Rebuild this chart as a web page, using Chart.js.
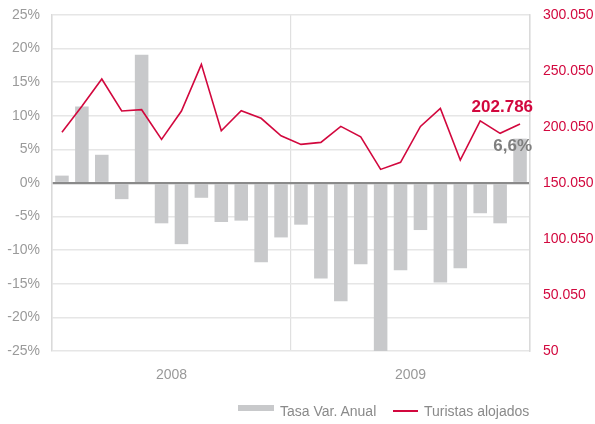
<!DOCTYPE html>
<html>
<head>
<meta charset="utf-8">
<script src="https://cdn.jsdelivr.net/npm/chart.js@4"></script>
<style>
  html, body { margin: 0; padding: 0; background: #fff; }
  #wrap { position: relative; width: 595px; height: 424px; }
  canvas { position: absolute; left: 0; top: 0; }
  .leg { position: absolute; font: 14px "Liberation Sans", Arial, sans-serif; color: #8a8a8a; line-height: 16px; white-space: nowrap; }
  .box { position: absolute; }
</style>
</head>
<body>
<div id="wrap">
  <canvas id="c" width="595" height="424"></canvas>
  <div class="box" style="left:238px; top:405px; width:36px; height:6px; background:#c8c9cb;"></div>
  <div class="leg" style="left:280px; top:403px;">Tasa Var. Anual</div>
  <div class="box" style="left:393px; top:410px; width:25px; height:2px; background:#d2083e;"></div>
  <div class="leg" style="left:424px; top:403px;">Turistas alojados</div>
</div>
<script>
const months = ['ene-08','feb-08','mar-08','abr-08','may-08','jun-08','jul-08','ago-08','sep-08','oct-08','nov-08','dic-08',
                'ene-09','feb-09','mar-09','abr-09','may-09','jun-09','jul-09','ago-09','sep-09','oct-09','nov-09','dic-09'];
const years = ['2008', '2009'];
const tasaVarAnual = [1.1, 11.4, 4.2, -2.4, 19.1, -6.0, -9.1, -2.2, -5.8, -5.6, -11.8, -8.1,
                      -6.2, -14.2, -17.6, -12.1, -25.0, -13.0, -7.0, -14.8, -12.7, -4.5, -6.0, 6.6];
const turistasAlojados = [195300, 218500, 242900, 214300, 215500, 189000, 214300, 256000, 196700, 214600, 207800, 192200,
                          184500, 186300, 200600, 191300, 162200, 168500, 200600, 216700, 170500, 205600, 194400, 202786];
const leftTicks = { min: -25, max: 25, step: 5 };
const rightTicks = { min: 50, max: 300050, step: 50000 };

const crimson = '#d2083e';
const fmtThousands = v => String(Math.round(v)).replace(/\B(?=(\d{3})+(?!\d))/g, '.');
const fmtComma = v => String(v).replace('.', ',');

Chart.defaults.font.family = '"Liberation Sans", Arial, sans-serif';

const lastLabels = {
  id: 'lastLabels',
  afterDatasetsDraw(chart) {
    const ctx = chart.ctx;
    const i = months.length - 1;
    const x = chart.scales.x.getPixelForValue(i);
    const yLine = chart.scales.y1.getPixelForValue(turistasAlojados[i]);
    const yBar = chart.scales.y.getPixelForValue(tasaVarAnual[i]);
    ctx.save();
    ctx.font = 'bold 17px "Liberation Sans", Arial, sans-serif';
    ctx.textAlign = 'right';
    ctx.textBaseline = 'middle';
    ctx.fillStyle = crimson;
    ctx.fillText(fmtThousands(turistasAlojados[i]), x + 13, yLine - 17);
    ctx.fillStyle = '#7f7f7f';
    ctx.fillText(fmtComma(tasaVarAnual[i]) + '%', x + 12, yBar + 8);
    ctx.restore();
  }
};

new Chart(document.getElementById('c'), {
  type: 'bar',
  data: {
    labels: months,
    datasets: [
      {
        type: 'line',
        label: 'Turistas alojados',
        data: turistasAlojados,
        yAxisID: 'y1',
        xAxisID: 'x',
        borderColor: crimson,
        backgroundColor: crimson,
        borderWidth: 1.6,
        pointRadius: 0,
        tension: 0,
        order: 0
      },
      {
        type: 'bar',
        label: 'Tasa Var. Anual',
        data: tasaVarAnual,
        yAxisID: 'y',
        xAxisID: 'x',
        backgroundColor: '#c8c9cb',
        borderWidth: 0,
        categoryPercentage: 1,
        barPercentage: 0.68,
        order: 1
      }
    ]
  },
  options: {
    responsive: false,
    animation: false,
    layout: { padding: { top: 15, left: 0, right: 0, bottom: 0 } },
    plugins: { legend: { display: false }, tooltip: { enabled: false } },
    scales: {
      x: {
        type: 'category',
        labels: months,
        display: false
      },
      x2: {
        type: 'category',
        labels: years,
        position: 'bottom',
        offset: true,
        grid: { offset: true, drawTicks: false, color: '#e0e0e0', lineWidth: 1.2 },
        border: { display: false },
        ticks: { color: '#999999', font: { size: 14 }, padding: 16 },
        afterFit: s => { s.height = 73; }
      },
      y: {
        type: 'linear',
        position: 'left',
        min: leftTicks.min,
        max: leftTicks.max,
        ticks: { stepSize: leftTicks.step, callback: v => v + '%', color: '#9a9a9a', font: { size: 14 }, padding: 12 },
        grid: {
          drawTicks: false,
          color: c => c.tick && c.tick.value === 0 ? '#8a8a8a' : '#e6e6e6',
          lineWidth: c => c.tick && c.tick.value === 0 ? 2.2 : 1.5,
          z: 0
        },
        border: { display: true, color: '#dadada', width: 1.5 },
        afterFit: s => { s.width = 52; s.paddingTop = 0; s.paddingBottom = 0; }
      },
      y1: {
        type: 'linear',
        position: 'right',
        min: rightTicks.min,
        max: rightTicks.max,
        ticks: { stepSize: rightTicks.step, callback: v => fmtThousands(v), color: crimson, font: { size: 14 }, padding: 13 },
        grid: { drawOnChartArea: false, drawTicks: false },
        border: { display: true, color: '#dadada', width: 1.5 },
        afterFit: s => { s.width = 65; s.paddingTop = 0; s.paddingBottom = 0; }
      }
    }
  },
  plugins: [lastLabels]
});
</script>
</body>
</html>
